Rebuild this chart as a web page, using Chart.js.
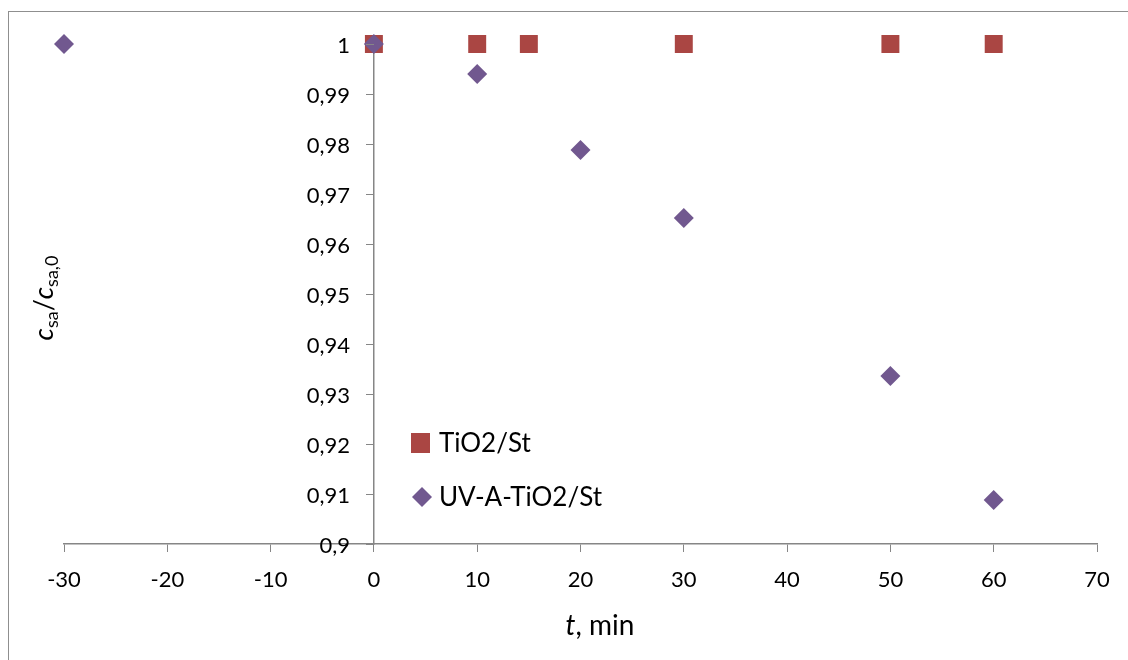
<!DOCTYPE html>
<html>
<head>
<meta charset="utf-8">
<script src="https://cdn.jsdelivr.net/npm/chart.js@4.4.1/dist/chart.umd.min.js"></script>
<style>
  html, body { margin: 0; padding: 0; background: #fff; }
  #wrap { width: 1128px; height: 660px; position: relative; }
</style>
</head>
<body>
<div id="wrap"><canvas id="c" width="1128" height="660"></canvas></div>
<script>
// ---- data ----
const tio2X = [0, 10, 15, 30, 50, 60];
const tio2Y = [1, 1, 1, 1, 1, 1];
const uvX = [-30, 0, 10, 20, 30, 50, 60];
const uvY = [1, 1, 0.994, 0.9788, 0.9652, 0.9336, 0.9088];
const seriesNames = ['TiO2/St', 'UV-A-TiO2/St'];
const xTicks = [-30, -20, -10, 0, 10, 20, 30, 40, 50, 60, 70];
const yTicks = [0.9, 0.91, 0.92, 0.93, 0.94, 0.95, 0.96, 0.97, 0.98, 0.99, 1];

const RED = '#AA4643';
const PURPLE = '#71588F';
const AXIS = '#868686';
const FONT = 'Lato, "Open Sans", sans-serif';

const toPts = (xs, ys) => xs.map((x, i) => ({ x: x, y: ys[i] }));
const fmtY = v => String(Number(v.toFixed(2))).replace('.', ',');

const frame = {
  id: 'frame',
  beforeDraw(chart) {
    const ctx = chart.ctx;
    ctx.save();
    ctx.fillStyle = '#fff';
    ctx.fillRect(0, 0, chart.width, chart.height);
    ctx.strokeStyle = '#8f8f8f';
    ctx.lineWidth = 1;
    ctx.strokeRect(8.5, 11.5, 1400, 1000);
    ctx.restore();
  }
};

// y-axis tick marks and labels, placed from the y scale (axis crosses at x = 0)
const yAxisLabels = {
  id: 'yAxisLabels',
  afterDatasetsDraw(chart) {
    const ctx = chart.ctx;
    const ys = chart.scales.y, xs = chart.scales.x;
    const ax = Math.round(xs.getPixelForValue(0));
    ctx.save();
    ctx.strokeStyle = AXIS;
    ctx.lineWidth = 1;
    ctx.fillStyle = '#000';
    ctx.font = '22px ' + FONT;
    ctx.textAlign = 'right';
    ctx.textBaseline = 'middle';
    ys.ticks.forEach(t => {
      const py = Math.round(ys.getPixelForValue(t.value)) + 0.5;
      ctx.beginPath();
      ctx.moveTo(ax - 8, py);
      ctx.lineTo(ax, py);
      ctx.stroke();
      ctx.fillText(fmtY(t.value), ax - 24, py + 1);
    });
    ctx.restore();
  }
};

function drawRich(ctx, parts, x, y, align) {
  let total = 0;
  parts.forEach(p => {
    ctx.font = (p.italic ? 'italic ' : '') + p.size + 'px ' + FONT;
    p.w = ctx.measureText(p.t).width;
    total += p.w;
  });
  let cx = align === 'center' ? x - total / 2 : x;
  parts.forEach(p => {
    ctx.font = (p.italic ? 'italic ' : '') + p.size + 'px ' + FONT;
    ctx.fillText(p.t, cx, y + (p.dy || 0));
    cx += p.w;
  });
}

const titles = {
  id: 'titles',
  afterDraw(chart) {
    const ctx = chart.ctx;
    ctx.save();
    ctx.fillStyle = '#000';
    ctx.textBaseline = 'alphabetic';
    ctx.textAlign = 'left';
    drawRich(ctx, [
      { t: 't', size: 28, italic: true },
      { t: ', min', size: 28 }
    ], 600, 635, 'center');
    ctx.translate(53, 298);
    ctx.rotate(-Math.PI / 2);
    drawRich(ctx, [
      { t: 'c', size: 27, italic: true },
      { t: 'sa', size: 18, dy: 5 },
      { t: '/', size: 27 },
      { t: 'c', size: 27, italic: true },
      { t: 'sa,0', size: 18, dy: 5 }
    ], 0, 0, 'center');
    ctx.restore();

    // legend
    ctx.save();
    const items = [
      { name: seriesNames[0], color: RED, style: 'rect', y: 443 },
      { name: seriesNames[1], color: PURPLE, style: 'rectRot', y: 497 }
    ];
    items.forEach(it => {
      ctx.fillStyle = it.color;
      if (it.style === 'rect') {
        ctx.fillRect(411, it.y - 10, 19, 20);
      } else {
        ctx.beginPath();
        ctx.moveTo(422, it.y - 10);
        ctx.lineTo(432, it.y);
        ctx.lineTo(422, it.y + 10);
        ctx.lineTo(412, it.y);
        ctx.closePath();
        ctx.fill();
      }
      ctx.fillStyle = '#000';
      ctx.font = '26px ' + FONT;
      ctx.textBaseline = 'middle';
      ctx.fillText(it.name, 439, it.y + 1);
    });
    ctx.restore();
  }
};

new Chart(document.getElementById('c'), {
  type: 'scatter',
  data: {
    datasets: [
      {
        label: seriesNames[1],
        data: toPts(uvX, uvY),
        pointStyle: 'rectRot',
        pointRadius: 10,
        pointHoverRadius: 10,
        backgroundColor: PURPLE,
        borderColor: PURPLE,
        borderWidth: 0,
        clip: false,
        order: 0
      },
      {
        label: seriesNames[0],
        data: toPts(tio2X, tio2Y),
        pointStyle: 'rect',
        pointRadius: 12.7,
        pointHoverRadius: 12.7,
        backgroundColor: RED,
        borderColor: RED,
        borderWidth: 0,
        clip: false,
        order: 1
      }
    ]
  },
  options: {
    responsive: false,
    animation: false,
    events: [],
    layout: { padding: { left: 64, right: 31, top: 44, bottom: 0 } },
    plugins: { legend: { display: false }, tooltip: { enabled: false } },
    scales: {
      x: {
        type: 'linear',
        position: 'bottom',
        min: -30, max: 70,
        afterBuildTicks(scale) { scale.ticks = xTicks.map(v => ({ value: v })); },
        afterFit(scale) { scale.height = 116; },
        grid: { display: true, drawOnChartArea: false, drawTicks: true, tickLength: 8, color: AXIS, lineWidth: 1 },
        border: { display: true, color: AXIS, width: 1.5 },
        ticks: { color: '#000', font: { family: FONT, size: 22 }, padding: 15, maxRotation: 0, autoSkip: false }
      },
      y: {
        type: 'linear',
        position: { x: 0 },
        min: 0.9, max: 1,
        afterBuildTicks(scale) { scale.ticks = yTicks.map(v => ({ value: v })); },
        grid: { display: false, drawOnChartArea: false },
        border: { display: true, color: AXIS, width: 1.5 },
        ticks: { display: false, autoSkip: false, callback: fmtY }
      }
    }
  },
  plugins: [frame, yAxisLabels, titles]
});
</script>
</body>
</html>
